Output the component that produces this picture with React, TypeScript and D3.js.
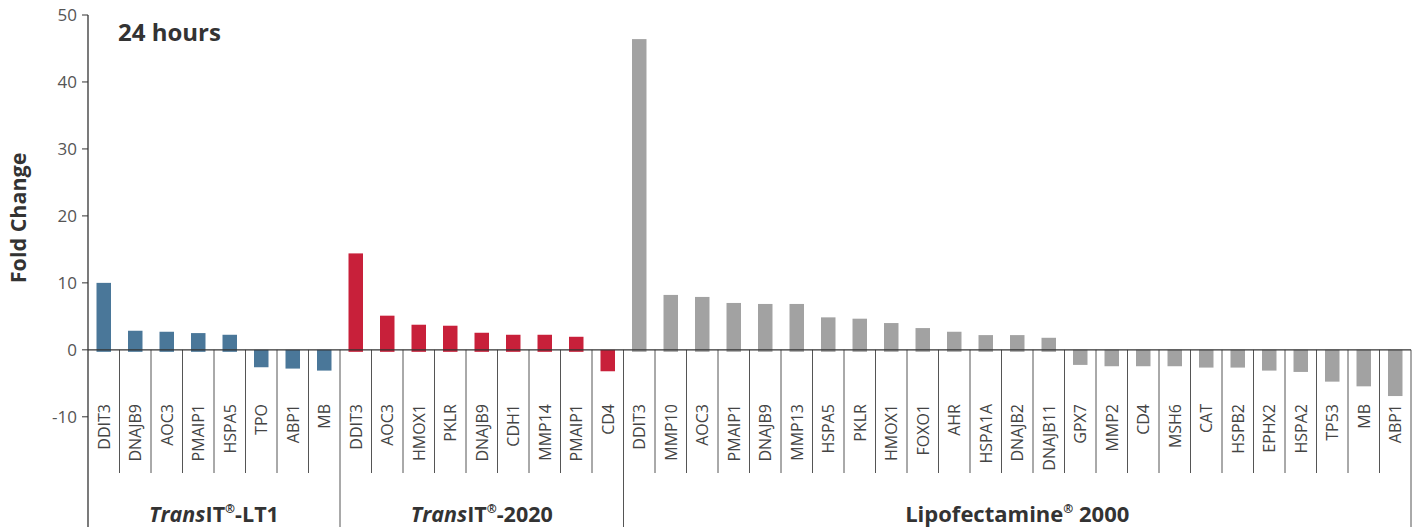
import React from "react";
import * as d3 from "d3";

const lt1Genes = ["DDIT3", "DNAJB9", "AOC3", "PMAIP1", "HSPA5", "TPO", "ABP1", "MB"];
const lt1Values = [10.0, 2.85, 2.7, 2.5, 2.25, -2.6, -2.8, -3.1];

const t2020Genes = ["DDIT3", "AOC3", "HMOX1", "PKLR", "DNAJB9", "CDH1", "MMP14", "PMAIP1", "CD4"];
const t2020Values = [14.4, 5.1, 3.75, 3.6, 2.55, 2.25, 2.25, 1.95, -3.2];

const lipoGenes = ["DDIT3", "MMP10", "AOC3", "PMAIP1", "DNAJB9", "MMP13", "HSPA5", "PKLR", "HMOX1", "FOXO1", "AHR", "HSPA1A", "DNAJB2", "DNAJB11", "GPX7", "MMP2", "CD4", "MSH6", "CAT", "HSPB2", "EPHX2", "HSPA2", "TP53", "MB", "ABP1"];
const lipoValues = [46.4, 8.2, 7.9, 7.0, 6.85, 6.85, 4.85, 4.65, 4.0, 3.25, 2.7, 2.2, 2.2, 1.8, -2.25, -2.45, -2.45, -2.45, -2.65, -2.65, -3.1, -3.3, -4.75, -5.45, -6.9];

const yTicks = [-10, 0, 10, 20, 30, 40, 50];

const groups = [
  { key: "lt1", genes: lt1Genes, values: lt1Values, color: "#4a7799" },
  { key: "t2020", genes: t2020Genes, values: t2020Values, color: "#c8203a" },
  { key: "lipo", genes: lipoGenes, values: lipoValues, color: "#a2a2a2" },
];

const FONT = "'Open Sans', 'Noto Sans', sans-serif";

export default function App() {
  const W = 1418, H = 527;
  const left = 88, right = 1411;
  const y = d3.scaleLinear().domain([-10, 50]).range([416.8, 15]);
  const items: { gene: string; value: number; color: string; group: number; idx: number }[] = [];
  groups.forEach((g, gi) => g.genes.forEach((gene, i) => items.push({ gene, value: g.values[i], color: g.color, group: gi, idx: items.length })));
  const x = d3.scaleBand<number>().domain(items.map((d) => d.idx)).range([left, right]).paddingInner(0).paddingOuter(0);
  const bw = x.bandwidth();
  const barW = bw * 0.46;
  const y0 = y(0);
  const sepBottom = 473;

  const groupStarts: number[] = [];
  let acc = 0;
  groups.forEach((g) => { groupStarts.push(acc); acc += g.genes.length; });
  const groupBounds = groups.map((g, gi) => {
    const s = groupStarts[gi];
    const e = s + g.genes.length;
    return { x0: x(s)!, x1: e < items.length ? x(e)! : right };
  });

  return (
    <svg width={W} height={H} style={{ position: "absolute", left: 0, top: 0, background: "#fff" }}>
      {items.map((d) => {
        const cx = x(d.idx)! + bw / 2;
        const top = d.value >= 0 ? y(d.value) : y0;
        const h = Math.abs(y(d.value) - y0) + (d.value >= 0 ? 2 : 0);
        return <rect key={"b" + d.idx} x={cx - barW / 2} y={top} width={barW} height={h} fill={d.color} />;
      })}
      {items.map((d) => {
        if (groupStarts.includes(d.idx)) return null;
        const xx = x(d.idx)!;
        return <line key={"s" + d.idx} x1={xx} x2={xx} y1={y0} y2={sepBottom} stroke="#555" strokeWidth={1} />;
      })}
      {groupStarts.slice(1).map((s) => (
        <line key={"g" + s} x1={x(s)!} x2={x(s)!} y1={y0} y2={H} stroke="#555" strokeWidth={1} />
      ))}
      <line x1={right} x2={right} y1={y0} y2={H} stroke="#555" strokeWidth={1} />
      <line x1={left} x2={right} y1={y0} y2={y0} stroke="#333" strokeWidth={1.3} />
      <line x1={left} x2={left} y1={y(50)} y2={H} stroke="#333" strokeWidth={1.3} />
      {yTicks.map((t) => (
        <g key={"t" + t}>
          <line x1={left - 6} x2={left} y1={y(t)} y2={y(t)} stroke="#333" strokeWidth={1} />
          <text x={left - 11} y={y(t)} dy="0.35em" textAnchor="end" fontFamily={FONT} fontSize={17} fill="#555">{t}</text>
        </g>
      ))}
      {items.map((d) => {
        const cx = x(d.idx)! + bw / 2;
        return (
          <text key={"l" + d.idx} transform={`translate(${cx + 6},${404}) rotate(-90)`} textAnchor="end" fontFamily={FONT} fontSize={16} fill="#444">{d.gene}</text>
        );
      })}
      <text transform={`translate(26,${y(20) + 2}) rotate(-90)`} textAnchor="middle" fontFamily={FONT} fontWeight="bold" fontSize={21.5} fill="#333">Fold Change</text>
      <text x={118} y={41} fontFamily={FONT} fontWeight="bold" fontSize={24} fill="#333">24 hours</text>
      <text x={(groupBounds[0].x0 + groupBounds[0].x1) / 2} y={522} textAnchor="middle" fontFamily={FONT} fontWeight="bold" fontSize={21.5} fill="#333">
        <tspan fontStyle="italic">Trans</tspan><tspan>IT</tspan><tspan fontSize={12} dy={-9}>®</tspan><tspan dy={9}>-LT1</tspan>
      </text>
      <text x={(groupBounds[1].x0 + groupBounds[1].x1) / 2} y={522} textAnchor="middle" fontFamily={FONT} fontWeight="bold" fontSize={21.5} fill="#333">
        <tspan fontStyle="italic">Trans</tspan><tspan>IT</tspan><tspan fontSize={12} dy={-9}>®</tspan><tspan dy={9}>-2020</tspan>
      </text>
      <text x={(groupBounds[2].x0 + groupBounds[2].x1) / 2} y={522} textAnchor="middle" fontFamily={FONT} fontWeight="bold" fontSize={22} fill="#333">
        <tspan>Lipofectamine</tspan><tspan fontSize={12} dy={-9}>®</tspan><tspan dy={9}> 2000</tspan>
      </text>
    </svg>
  );
}
